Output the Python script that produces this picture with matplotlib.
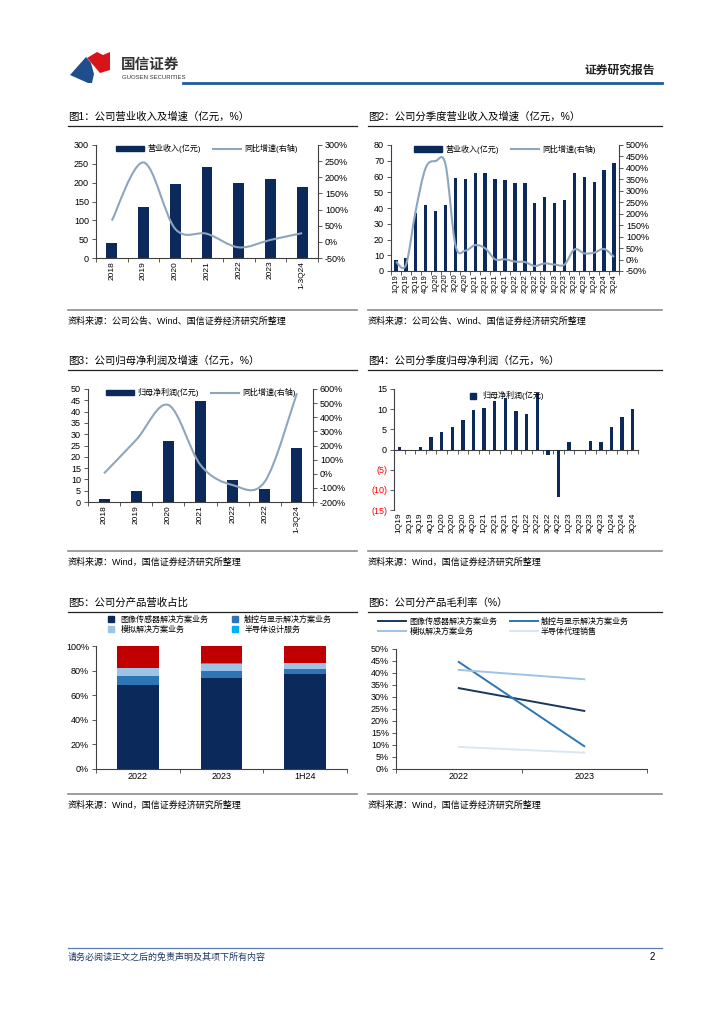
import numpy as np
import matplotlib
matplotlib.use('Agg')
import matplotlib.pyplot as plt
from matplotlib.path import Path
from matplotlib.patches import PathPatch, Polygon, Patch
from matplotlib.lines import Line2D

plt.rcParams['font.family'] = ['Liberation Sans', 'Noto Sans CJK SC']
plt.rcParams['axes.unicode_minus'] = False

W, H = 724, 1024

# ---- data ----
years = ['2018', '2019', '2020', '2021', '2022', '2023', '1-3Q24']
revenue = [40, 136, 197, 241, 200, 209, 188]
revenue_yoy = [66, 246, 40, 25, -17, 6, 27]

quarters = ['1Q19', '2Q19', '3Q19', '4Q19', '1Q20', '2Q20', '3Q20', '4Q20',
            '1Q21', '2Q21', '3Q21', '4Q21', '1Q22', '2Q22', '3Q22', '4Q22',
            '1Q23', '2Q23', '3Q23', '4Q23', '1Q24', '2Q24', '3Q24']
q_revenue = [7.2, 8.2, 36.8, 41.9, 38.1, 41.9, 59.3, 58.4, 62.2, 62.4, 58.4, 57.8,
             55.7, 55.7, 43.2, 47.0, 43.2, 45.1, 62.2, 59.5, 56.3, 64.3, 68.4]
q_revenue_yoy = [-9, -24, 215, 400, 430, 415, 63, 39, 63, 49, 1, 1,
                 -9, -11, -28, -17, -22, -22, 44, 27, 30, 46, 11]

np_years = ['2018', '2019', '2020', '2021', '2022', '2022', '1-3Q24']
net_profit = [1.3, 4.7, 27.0, 44.8, 9.8, 5.6, 23.9]
net_profit_yoy = [3, 240, 487, 62, -80, -56, 570]

q_net_profit = [0.5, -0.2, 0.5, 3.2, 4.3, 5.5, 7.3, 9.8, 10.4, 12.0, 12.8, 9.5,
                8.9, 14.0, -1.3, -11.7, 1.9, -0.2, 2.0, 1.8, 5.6, 8.1, 10.1]

seg_years = ['2022', '2023', '1H24']
seg_names = ['图像传感器解决方案业务', '触控与显示解决方案业务', '模拟解决方案业务', '半导体设计服务']
share_sensor = [68.0, 74.0, 77.4]
share_touch = [7.5, 5.5, 3.5]
share_analog = [6.5, 6.0, 5.0]
share_design = [0.3, 0.3, 0.3]
share_agent = [17.7, 14.2, 13.8]

margin_years = ['2022', '2023']
margin_names = ['图像传感器解决方案业务', '触控与显示解决方案业务', '模拟解决方案业务', '半导体代理销售']
margin_sensor = [33.7, 24.2]
margin_touch = [44.6, 9.5]
margin_analog = [41.3, 37.4]
margin_agent = [9.2, 6.8]

NAVY = '#0B2A5B'
LINE = '#8DA6BE'
MID = '#2E75B6'
LIGHT = '#9DC3E6'
PALE = '#DCE6F2'
CYAN = '#00B0F0'
RED = '#C00000'

fig = plt.figure(figsize=(W / 100, H / 100), dpi=100)


def px_axes(x0, y0, x1, y1):
    return fig.add_axes([x0 / W, 1 - y1 / H, (x1 - x0) / W, (y1 - y0) / H])


def fx(x):
    return x / W


def fy(y):
    return 1 - y / H


def hline(x0, x1, y, color, lw):
    fig.add_artist(Line2D([fx(x0), fx(x1)], [fy(y), fy(y)], transform=fig.transFigure,
                          color=color, lw=lw))


def style_axes(ax):
    ax.spines['top'].set_visible(False)
    ax.spines['right'].set_visible(False)
    for s in ['left', 'bottom']:
        ax.spines[s].set_color('#404040')
        ax.spines[s].set_linewidth(0.8)
    ax.tick_params(axis='both', labelsize=6.5, length=3, width=0.6, color='#404040', pad=2)


def cat_xaxis(ax, labels, rotate=True, fs=6):
    n = len(labels)
    ax.set_xlim(-0.5, n - 0.5)
    ax.set_xticks(range(n))
    ax.set_xticklabels(labels, rotation=90 if rotate else 0, fontsize=fs)
    ax.set_xticks(np.arange(-0.5, n, 1), minor=True)
    ax.tick_params(axis='x', which='major', length=0)
    ax.tick_params(axis='x', which='minor', length=3, width=0.6, color='#404040')


def smooth_line(ax, xs, ys, **kw):
    # Excel-style smoothed line: cubic Bezier segments through the data points
    pts = np.column_stack([xs, ys]).astype(float)
    verts = [pts[0]]
    codes = [Path.MOVETO]
    n = len(pts)
    for i in range(n - 1):
        p0 = pts[max(i - 1, 0)]
        p1 = pts[i]
        p2 = pts[i + 1]
        p3 = pts[min(i + 2, n - 1)]
        verts += [p1 + (p2 - p0) / 6, p2 - (p3 - p1) / 6, p2]
        codes += [Path.CURVE4] * 3
    ax.add_patch(PathPatch(Path(verts, codes), fill=False, **kw))


def right_axis(ax, lo, hi, step):
    ar = ax.twinx()
    ar.set_ylim(lo, hi)
    ticks = np.arange(lo, hi + 1, step)
    ar.set_yticks(ticks)
    ar.set_yticklabels(['%d%%' % t for t in ticks])
    for s in ['top', 'left', 'bottom']:
        ar.spines[s].set_visible(False)
    ar.spines['right'].set_color('#404040')
    ar.spines['right'].set_linewidth(0.8)
    ar.tick_params(axis='y', labelsize=6.5, length=3, width=0.6, color='#404040', pad=2)
    return ar


def combo_legend(ar, bar_label, line_label, anchor):
    handles = [Patch(color=NAVY), Line2D([], [], color=LINE, lw=1.5)]
    ar.legend(handles, [bar_label, line_label], ncol=2, loc='upper center',
              bbox_to_anchor=anchor, frameon=False, fontsize=5.8,
              handlelength=3.5, handleheight=0.7, columnspacing=1.5, handletextpad=0.4)


# ---- header ----
fig.add_artist(Polygon([(fx(70), fy(75)), (fx(86), fy(57)), (fx(91), fy(63)),
                        (fx(94), fy(74)), (fx(92), fy(83)), (fx(88), fy(83))],
                       closed=True, transform=fig.transFigure, color='#1F4E8C', lw=0))
fig.add_artist(Polygon([(fx(87), fy(58)), (fx(97), fy(52)), (fx(103), fy(55)),
                        (fx(110), fy(52)), (fx(110), fy(70)), (fx(100), fy(73)),
                        (fx(94), fy(66))],
                       closed=True, transform=fig.transFigure, color='#D7141A', lw=0))
fig.text(fx(121), fy(64), '国信证券', fontsize=10.5, fontweight='bold', color='#333333',
         va='center', ha='left', family=['Noto Sans CJK SC'])
fig.text(fx(122), fy(77.5), 'GUOSEN SECURITIES', fontsize=4.3, color='#333333',
         va='center', ha='left')
fig.text(fx(655), fy(70), '证券研究报告', fontsize=8.5, fontweight='bold', color='#222222',
         va='center', ha='right', family=['Noto Sans CJK SC'])
hline(183, 662, 83, '#1F5C99', 2.0)

# ---- titles / sources ----
titles = [('图1：公司营业收入及增速（亿元，%）', '图2：公司分季度营业收入及增速（亿元，%）', 117, 126, 310, 321,
           '资料来源：公司公告、Wind、国信证券经济研究所整理'),
          ('图3：公司归母净利润及增速（亿元，%）', '图4：公司分季度归母净利润（亿元，%）', 361, 370, 551, 562,
           '资料来源：Wind，国信证券经济研究所整理'),
          ('图5：公司分产品营收占比', '图6：公司分产品毛利率（%）', 603, 612, 794, 805,
           '资料来源：Wind，国信证券经济研究所整理')]
for t_left, t_right, ty, uy, sy, sty, src in titles:
    fig.text(fx(68), fy(ty), t_left, fontsize=7.5, va='center', ha='left')
    fig.text(fx(368), fy(ty), t_right, fontsize=7.5, va='center', ha='left')
    hline(68, 357, uy, '#222222', 0.9)
    hline(368, 662, uy, '#222222', 0.9)
    hline(68, 357, sy, '#8C8C8C', 1.2)
    hline(368, 662, sy, '#8C8C8C', 1.2)
    fig.text(fx(68), fy(sty), src, fontsize=6.5, va='center', ha='left')
    fig.text(fx(368), fy(sty), src, fontsize=6.5, va='center', ha='left')

# ---- chart 1 ----
ax = px_axes(96, 145, 318, 258)
style_axes(ax)
x = np.arange(len(years))
ax.bar(x, revenue, width=0.34, color=NAVY)
ax.set_ylim(0, 300)
ax.set_yticks(np.arange(0, 301, 50))
cat_xaxis(ax, years)
ar = right_axis(ax, -50, 300, 50)
smooth_line(ar, x, revenue_yoy, color=LINE, lw=1.5)
combo_legend(ar, '营业收入(亿元)', '同比增速(右轴)', (0.5, 1.07))

# ---- chart 2 ----
ax = px_axes(391, 145, 619, 271)
style_axes(ax)
x = np.arange(len(quarters))
ax.bar(x, q_revenue, width=0.34, color=NAVY)
ax.set_ylim(0, 80)
ax.set_yticks(np.arange(0, 81, 10))
cat_xaxis(ax, quarters, fs=5.5)
ar = right_axis(ax, -50, 500, 50)
smooth_line(ar, x, q_revenue_yoy, color=LINE, lw=1.5)
combo_legend(ar, '营业收入(亿元)', '同比增速(右轴)', (0.5, 1.06))

# ---- chart 3 ----
ax = px_axes(88, 389, 313, 502)
style_axes(ax)
x = np.arange(len(np_years))
ax.bar(x, net_profit, width=0.34, color=NAVY)
ax.set_ylim(0, 50)
ax.set_yticks(np.arange(0, 51, 5))
cat_xaxis(ax, np_years)
ar = right_axis(ax, -200, 600, 100)
smooth_line(ar, x, net_profit_yoy, color=LINE, lw=1.5)
combo_legend(ar, '归母净利润(亿元)', '同比增速(右轴)', (0.5, 1.07))

# ---- chart 4 ----
ax = px_axes(394, 389, 638, 510)
style_axes(ax)
ax.spines['bottom'].set_visible(False)
x = np.arange(len(quarters))
ax.bar(x, q_net_profit, width=0.32, color=NAVY)
ax.set_ylim(-15, 15)
yt = [-15, -10, -5, 0, 5, 10, 15]
ax.set_yticks(yt)
ax.set_yticklabels(['(%d)' % -v if v < 0 else '%d' % v for v in yt])
for lab, v in zip(ax.get_yticklabels(), yt):
    if v < 0:
        lab.set_color('#FF0000')
cat_xaxis(ax, quarters, fs=6)
ax.tick_params(axis='x', which='minor', length=0)
sec = ax.secondary_xaxis(0.5)
sec.set_alignment('bottom')
sec.set_xticks(np.arange(-0.5, len(quarters), 1))
sec.tick_params(axis='x', length=3, width=0.6, color='#404040', labelbottom=False, labeltop=False)
sec.spines['bottom'].set_color('#404040')
sec.spines['bottom'].set_linewidth(0.8)
ax.legend([Line2D([], [], marker='s', color=NAVY, linestyle='none', markersize=4)],
          ['归母净利润(亿元)'], loc='upper left', bbox_to_anchor=(0.26, 1.04),
          frameon=False, fontsize=5.8, handletextpad=0.2)

# ---- chart 5 ----
ax = px_axes(96, 646, 347, 769)
style_axes(ax)
x = np.arange(len(seg_years))
bottom = np.zeros(len(seg_years))
for vals, col in zip([share_sensor, share_touch, share_analog, share_design, share_agent],
                     [NAVY, MID, LIGHT, CYAN, RED]):
    ax.bar(x, vals, bottom=bottom, width=0.5, color=col)
    bottom = bottom + np.array(vals)
ax.set_ylim(0, 100)
ax.set_yticks(np.arange(0, 101, 20))
ax.set_yticklabels(['%d%%' % v for v in range(0, 101, 20)])
cat_xaxis(ax, seg_years, rotate=False, fs=6.5)
order = [0, 2, 1, 3]  # legend fills column-wise; reorder so rows read left to right
seg_cols = [NAVY, MID, LIGHT, CYAN]
fig.legend([Line2D([], [], marker='s', color=seg_cols[i], linestyle='none', markersize=4.5)
            for i in order], [seg_names[i] for i in order], ncol=2,
           loc='upper left', bbox_to_anchor=(fx(103), fy(616)), frameon=False,
           fontsize=5.8, handletextpad=0.2, columnspacing=2.2, labelspacing=0.15,
           borderaxespad=0, borderpad=0)

# ---- chart 6 ----
ax = px_axes(396, 649, 647, 769)
style_axes(ax)
x = np.arange(len(margin_years))
line_cols = ['#17375E', MID, LIGHT, PALE]
for vals, col in zip([margin_sensor, margin_touch, margin_analog, margin_agent], line_cols):
    ax.plot(x, vals, color=col, lw=1.4)
ax.set_ylim(0, 50)
ax.set_yticks(np.arange(0, 51, 5))
ax.set_yticklabels(['%d%%' % v for v in range(0, 51, 5)])
cat_xaxis(ax, margin_years, rotate=False, fs=6.5)
fig.legend([Line2D([], [], color=line_cols[i], lw=1.4) for i in order],
           [margin_names[i] for i in order], ncol=2,
           loc='upper left', bbox_to_anchor=(fx(378), fy(618)), frameon=False,
           fontsize=5.8, handlelength=3.5, handletextpad=0.4, columnspacing=1.5,
           labelspacing=0.15, borderaxespad=0, borderpad=0)

# ---- footer ----
hline(68, 662, 948, '#5B7DB1', 0.9)
fig.text(fx(68), fy(957), '请务必阅读正文之后的免责声明及其项下所有内容', fontsize=6.5,
         style='italic', color='#1F3864', va='center', ha='left')
fig.text(fx(655), fy(957), '2', fontsize=7, va='center', ha='right')

fig.savefig('out.png', dpi=100)
